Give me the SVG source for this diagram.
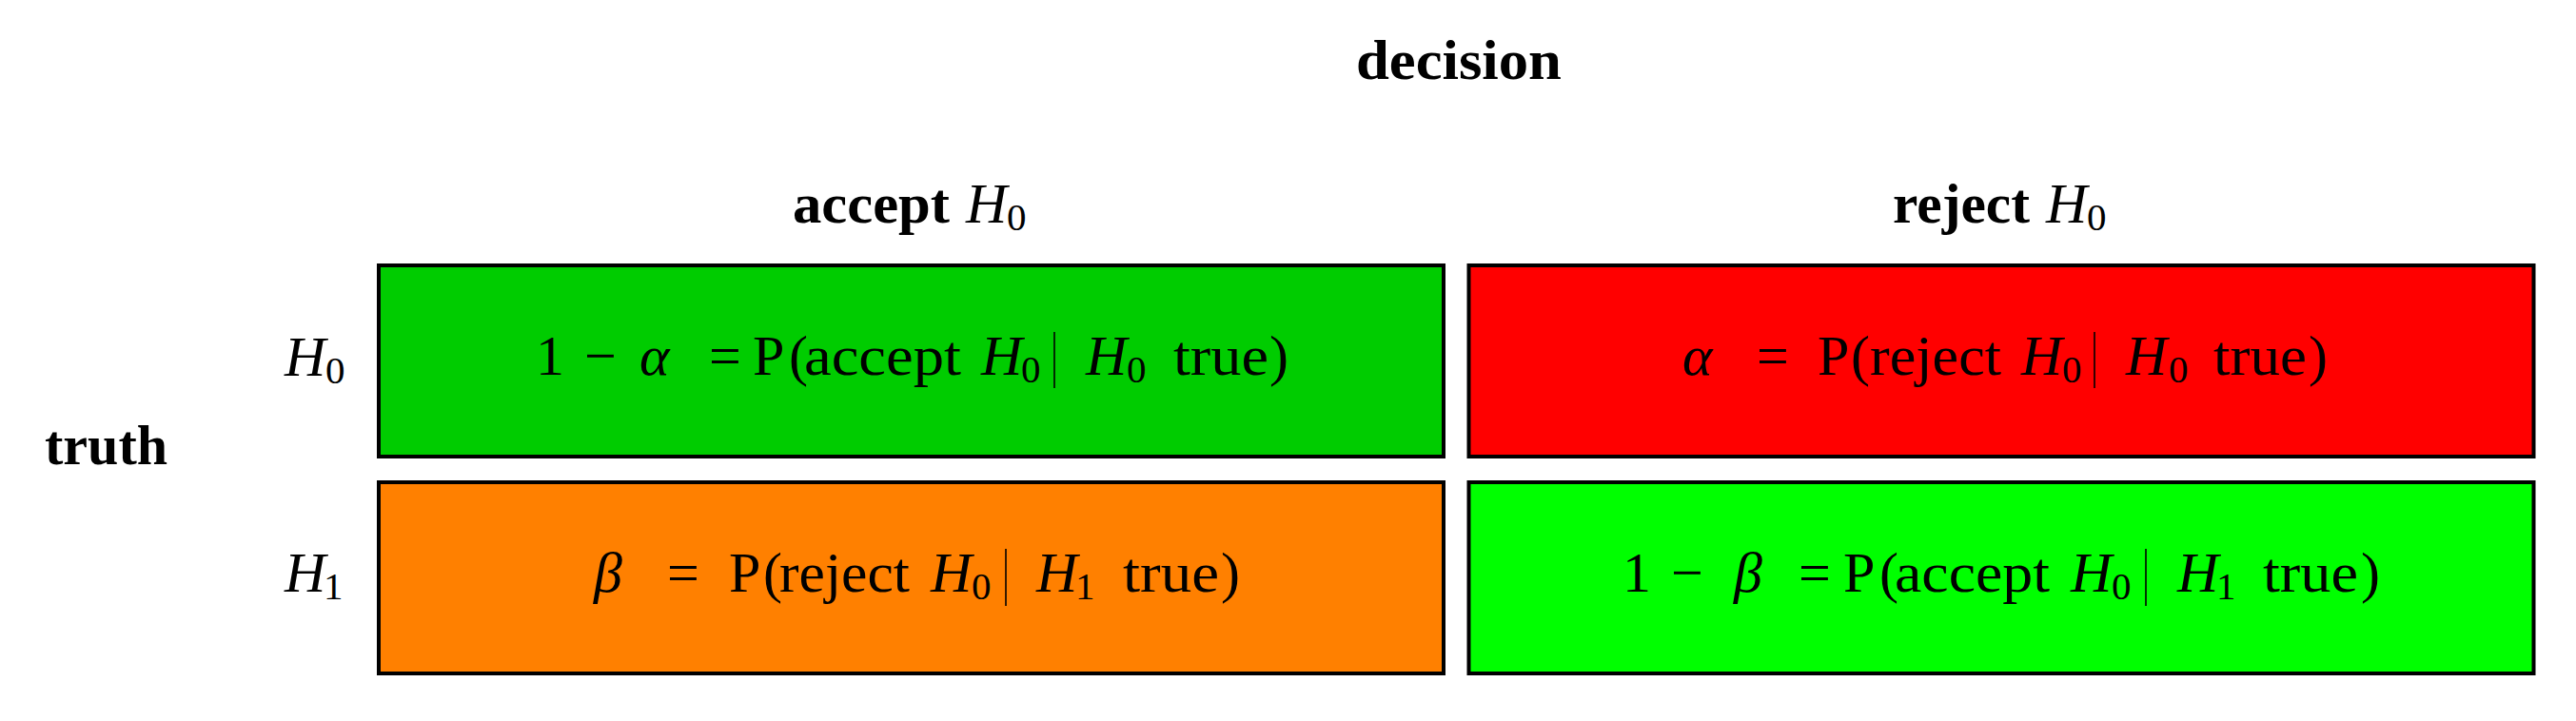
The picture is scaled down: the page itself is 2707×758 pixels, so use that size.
<svg xmlns="http://www.w3.org/2000/svg" width="2707" height="758" viewBox="0 0 2707 758">
<style>
.t{font-family:"Liberation Serif","Times New Roman",serif;font-size:60px;fill:#000}
.b{font-weight:bold}
.i{font-style:italic}
.s{font-size:41px}
.cell{stroke:#000;stroke-width:4}
.bar{stroke:#000;stroke-width:1.6}
</style>
<rect width="2707" height="758" fill="#fff"/>
<g id="header">
<text class="t b" x="1425" y="83" textLength="216" lengthAdjust="spacingAndGlyphs">decision</text>
<text class="t b" x="833" y="234" textLength="165" lengthAdjust="spacingAndGlyphs">accept</text>
<text class="t i" x="1015" y="234">H</text>
<text class="t s" x="1058" y="242">0</text>
<text class="t b" x="1989" y="234" textLength="144" lengthAdjust="spacingAndGlyphs">reject</text>
<text class="t i" x="2150" y="234">H</text>
<text class="t s" x="2193" y="242">0</text>
</g>
<g id="rowlabels">
<text class="t b" x="47" y="488" textLength="129" lengthAdjust="spacingAndGlyphs">truth</text>
<text class="t i" x="299" y="395">H</text>
<text class="t s" x="342" y="403">0</text>
<text class="t i" x="299" y="622">H</text>
<text class="t s" x="340" y="630">1</text>
</g>
<g id="cell-accept-h0">
<rect class="cell" x="398" y="279" width="1119" height="201" fill="#00CC00"/>
<text class="t" x="563" y="394">1</text>
<text class="t" x="614" y="394">−</text>
<text class="t i" x="672" y="394">α</text>
<text class="t" x="745" y="394">=</text>
<text class="t" x="791" y="394">P</text>
<text class="t" x="829" y="394">(</text>
<text class="t" x="845" y="394" textLength="165" lengthAdjust="spacingAndGlyphs">accept</text>
<text class="t i" x="1031" y="394">H</text>
<text class="t s" x="1073" y="402">0</text>
<line class="bar" x1="1108" y1="349" x2="1108" y2="408"/>
<text class="t i" x="1141" y="394">H</text>
<text class="t s" x="1184" y="402">0</text>
<text class="t" x="1233" y="394" textLength="100" lengthAdjust="spacingAndGlyphs">true</text>
<text class="t" x="1334" y="394">)</text>
</g>
<g id="cell-reject-h0">
<rect class="cell" x="1543.5" y="279" width="1119" height="201" fill="#FF0000"/>
<text class="t i" x="1768" y="394">α</text>
<text class="t" x="1846" y="394">=</text>
<text class="t" x="1910" y="394">P</text>
<text class="t" x="1945" y="394">(</text>
<text class="t" x="1965" y="394" textLength="138" lengthAdjust="spacingAndGlyphs">reject</text>
<text class="t i" x="2124" y="394">H</text>
<text class="t s" x="2167" y="402">0</text>
<line class="bar" x1="2201" y1="349" x2="2201" y2="408"/>
<text class="t i" x="2234" y="394">H</text>
<text class="t s" x="2279" y="402">0</text>
<text class="t" x="2326" y="394" textLength="98" lengthAdjust="spacingAndGlyphs">true</text>
<text class="t" x="2426" y="394">)</text>
</g>
<g id="cell-beta">
<rect class="cell" x="398" y="507" width="1119" height="201" fill="#FF8000"/>
<text class="t i" x="624" y="622">β</text>
<text class="t" x="701" y="622">=</text>
<text class="t" x="766" y="622">P</text>
<text class="t" x="802" y="622">(</text>
<text class="t" x="819" y="622" textLength="137" lengthAdjust="spacingAndGlyphs">reject</text>
<text class="t i" x="978" y="622">H</text>
<text class="t s" x="1021" y="630">0</text>
<line class="bar" x1="1057" y1="577" x2="1057" y2="637"/>
<text class="t i" x="1089" y="622">H</text>
<text class="t s" x="1130" y="630">1</text>
<text class="t" x="1180" y="622" textLength="101" lengthAdjust="spacingAndGlyphs">true</text>
<text class="t" x="1283" y="622">)</text>
</g>
<g id="cell-power">
<rect class="cell" x="1543.5" y="507" width="1119" height="201" fill="#00FF00"/>
<text class="t" x="1705" y="622">1</text>
<text class="t" x="1756" y="622">−</text>
<text class="t i" x="1822" y="622">β</text>
<text class="t" x="1890" y="622">=</text>
<text class="t" x="1937" y="622">P</text>
<text class="t" x="1975" y="622">(</text>
<text class="t" x="1991" y="622" textLength="163" lengthAdjust="spacingAndGlyphs">accept</text>
<text class="t i" x="2176" y="622">H</text>
<text class="t s" x="2219" y="630">0</text>
<line class="bar" x1="2255" y1="577" x2="2255" y2="637"/>
<text class="t i" x="2288" y="622">H</text>
<text class="t s" x="2329" y="630">1</text>
<text class="t" x="2378" y="622" textLength="100" lengthAdjust="spacingAndGlyphs">true</text>
<text class="t" x="2481" y="622">)</text>
</g>
</svg>
